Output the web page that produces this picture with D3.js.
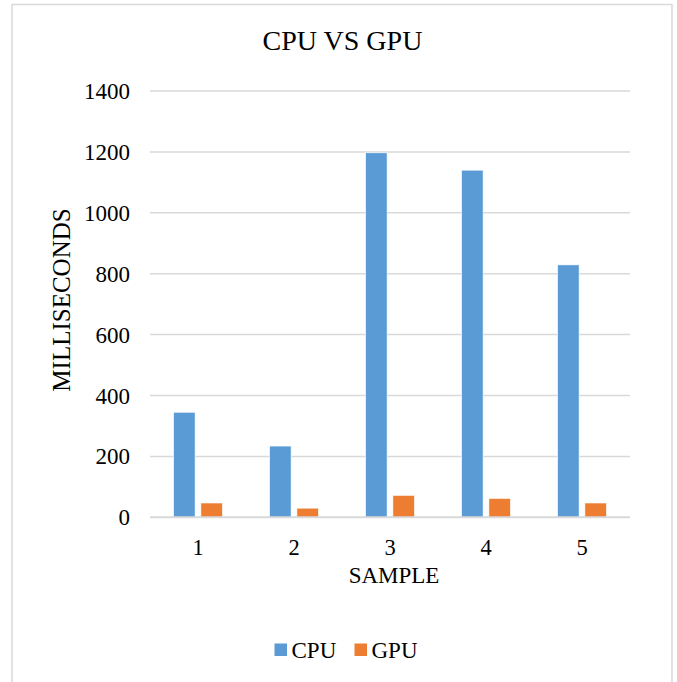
<!DOCTYPE html>
<html>
<head>
<meta charset="utf-8">
<script src="https://cdn.jsdelivr.net/npm/d3@7"></script>
<style>
  html, body { margin: 0; padding: 0; background: #ffffff; }
  svg { display: block; }
  text { font-family: "Liberation Serif", "Times New Roman", serif; fill: #000; }
</style>
</head>
<body>
<script>
const categories = ["1", "2", "3", "4", "5"];
const seriesNames = ["CPU", "GPU"];
const cpuValues = [345, 234, 1197, 1140, 829];
const gpuValues = [47, 30, 72, 62, 47];
const yTicks = [0, 200, 400, 600, 800, 1000, 1200, 1400];
const colors = { CPU: "#5b9bd5", GPU: "#ed7d31" };

const W = 677, H = 682;
const svg = d3.select("body").append("svg").attr("width", W).attr("height", H);

// chart area border (no bottom edge visible)
svg.append("path")
  .attr("d", `M12,${H} L12,4.5 L672,4.5 L672,${H}`)
  .attr("fill", "none").attr("stroke", "#d9d9d9").attr("stroke-width", 1.5);

const x0 = d3.scaleBand().domain(categories).range([150, 630]).padding(0);
const x1 = d3.scaleBand().domain(seriesNames).range([0, x0.bandwidth()])
  .paddingInner(0.2125).paddingOuter(0.864);
const y = d3.scaleLinear().domain([0, 1400]).range([517.3, 91]);

// gridlines
svg.append("g").selectAll("line").data(yTicks.filter(d => d !== 0)).join("line")
  .attr("x1", 150).attr("x2", 630)
  .attr("y1", d => y(d)).attr("y2", d => y(d))
  .attr("stroke", "#d9d9d9").attr("stroke-width", 1.5);

// y tick labels
svg.append("g").selectAll("text").data(yTicks).join("text")
  .attr("x", 130).attr("y", d => y(d) + 8)
  .attr("text-anchor", "end").attr("font-size", 23)
  .text(d => d);

// bars
const rows = categories.map((c, i) => ({ cat: c, CPU: cpuValues[i], GPU: gpuValues[i] }));
const groups = svg.append("g").selectAll("g").data(rows).join("g")
  .attr("transform", d => `translate(${x0(d.cat)},0)`);
groups.selectAll("rect").data(d => seriesNames.map(s => ({ s, v: d[s] }))).join("rect")
  .attr("x", d => x1(d.s)).attr("width", x1.bandwidth())
  .attr("y", d => y(d.v)).attr("height", d => y(0) - y(d.v))
  .attr("fill", d => colors[d.s])
  .attr("stroke", "#ffffff").attr("stroke-width", 0.6);

// baseline axis
svg.append("line").attr("x1", 150).attr("x2", 630)
  .attr("y1", y(0)).attr("y2", y(0))
  .attr("stroke", "#d9d9d9").attr("stroke-width", 2);

// x tick labels
svg.append("g").selectAll("text").data(categories).join("text")
  .attr("x", d => x0(d) + x0.bandwidth() / 2).attr("y", 554.5)
  .attr("text-anchor", "middle").attr("font-size", 22.5)
  .text(d => d);

// title
svg.append("text").attr("x", 342.5).attr("y", 50)
  .attr("text-anchor", "middle").attr("font-size", 28)
  .text("CPU VS GPU");

// axis titles
svg.append("text").attr("x", 394).attr("y", 582.5)
  .attr("text-anchor", "middle").attr("font-size", 23)
  .text("SAMPLE");
svg.append("text")
  .attr("transform", "translate(69.5,300) rotate(-90)")
  .attr("text-anchor", "middle").attr("font-size", 25)
  .text("MILLISECONDS");

// legend
const legendItems = [
  { name: "CPU", sx: 274.5, tx: 291.5 },
  { name: "GPU", sx: 354.5, tx: 371.5 }
];
const lg = svg.append("g");
lg.selectAll("rect").data(legendItems).join("rect")
  .attr("x", d => d.sx).attr("y", 643.5).attr("width", 12.5).attr("height", 12.5)
  .attr("fill", d => colors[d.name]);
lg.selectAll("text").data(legendItems).join("text")
  .attr("x", d => d.tx).attr("y", 657.5).attr("font-size", 23)
  .text(d => d.name);
</script>
</body>
</html>
